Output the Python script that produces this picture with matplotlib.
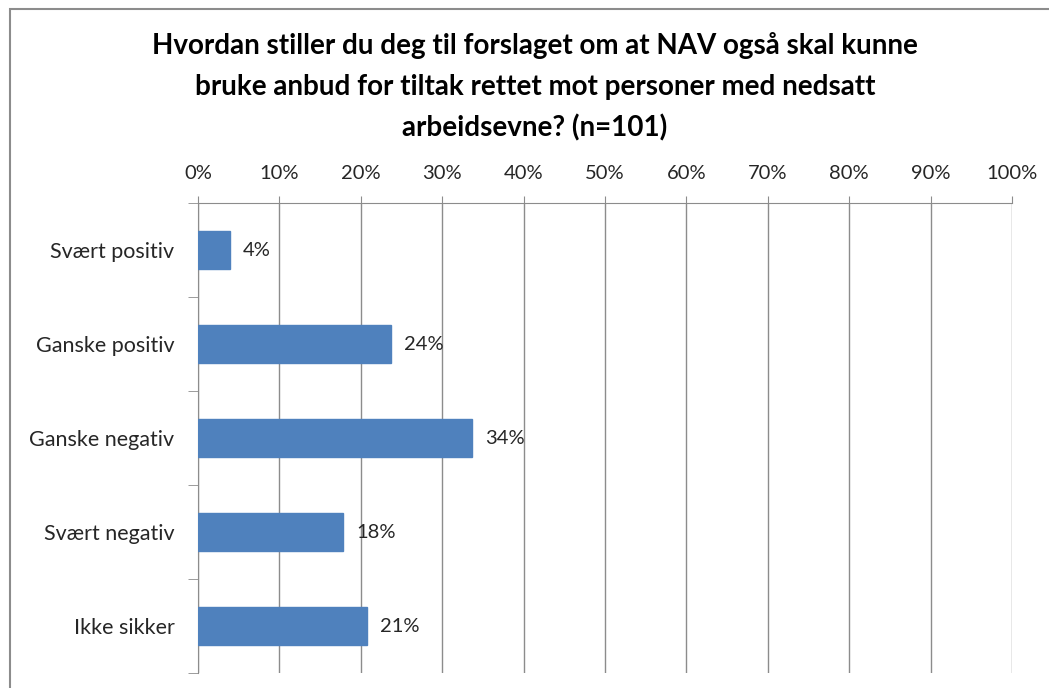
import matplotlib.pyplot as plt
from matplotlib.patches import Rectangle

# data
categories = ['Svært positiv', 'Ganske positiv', 'Ganske negativ', 'Svært negativ', 'Ikke sikker']
values = [3.96, 23.76, 33.66, 17.82, 20.79]
labels = ['4%', '24%', '34%', '18%', '21%']
ticks = [0, 10, 20, 30, 40, 50, 60, 70, 80, 90, 100]

plt.rcParams['font.family'] = ['Lato', 'DejaVu Sans']

fig = plt.figure(figsize=(10.49, 6.88), dpi=100)
ax = fig.add_axes([198 / 1049, 1 - 673 / 688, (1012 - 198) / 1049, (673 - 203) / 688])

# outer chart frame
fig.patches.append(Rectangle((10 / 1049, -0.05), 1.1, 1 - 9 / 688 + 0.05,
                             transform=fig.transFigure, fill=False,
                             edgecolor='#8c8c8c', linewidth=1.5))

y = list(range(len(categories)))
ax.barh(y, values, height=0.4, color='#4F81BD', edgecolor='#4F81BD', zorder=3)
for yi, v, lab in zip(y, values, labels):
    ax.text(v + 1.6, yi, lab, va='center', ha='left', fontsize=14.5, color='#262626')

ax.set_xlim(0, 100)
ax.set_ylim(len(categories) - 0.5, -0.5)
ax.set_xticks(ticks)
ax.set_xticklabels([f'{t}%' for t in ticks])
ax.xaxis.tick_top()
ax.tick_params(axis='x', direction='out', length=5, color='#8c8c8c', pad=10,
               labelsize=14.5, labelcolor='#262626')
ax.grid(axis='x', color='#8c8c8c', linewidth=1, zorder=0)

ax.set_yticks(y)
ax.set_yticklabels(categories)
ax.set_yticks([i - 0.5 for i in range(len(categories) + 1)], minor=True)
ax.tick_params(axis='y', which='major', length=0, pad=17, labelsize=15.5, labelcolor='#262626')
ax.tick_params(axis='y', which='minor', length=7, color='#8c8c8c')

for s in ['right', 'bottom']:
    ax.spines[s].set_visible(False)
for s in ['left', 'top']:
    ax.spines[s].set_color('#8c8c8c')

fig.text(0.51, 1 - 87 / 688, 'Hvordan stiller du deg til forslaget om at NAV også skal kunne\n'
         'bruke anbud for tiltak rettet mot personer med nedsatt\n'
         'arbeidsevne? (n=101)', ha='center', va='center', fontsize=20,
         fontweight='bold', linespacing=1.68, color='#000000')

fig.savefig('out.png', dpi=100)
